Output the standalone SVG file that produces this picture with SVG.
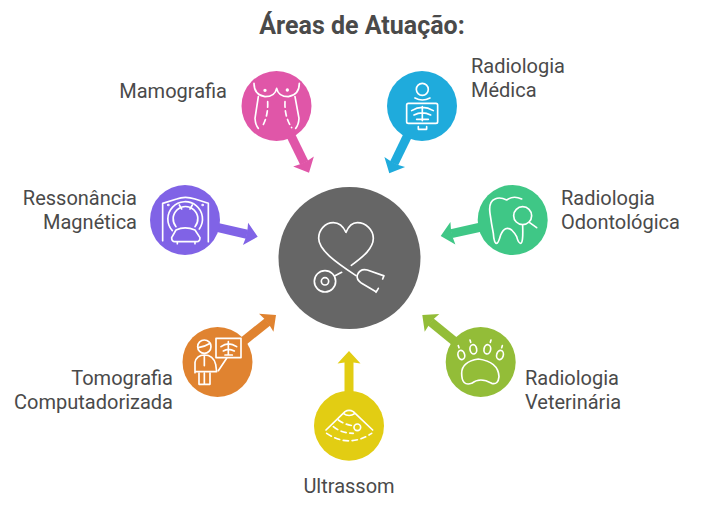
<svg xmlns="http://www.w3.org/2000/svg" width="706" height="514" viewBox="0 0 706 514">
<style>
text{font-family:Roboto,"Liberation Sans",sans-serif;font-size:20px;fill:#4a4a4a}
.t{font-size:25px;font-weight:700}
.e{text-anchor:end}
.m{text-anchor:middle}
.i{fill:none;stroke:#fff;stroke-width:5;stroke-linecap:round;stroke-linejoin:round}
.d{stroke-dasharray:16 11}
</style>
<defs>
<path id="ah" d="M-11.5,-4.4 L-12.5,-11.5 L0,0 L-12.5,11.5 L-11.5,4.4 Z"/>
</defs>
<rect width="706" height="514" fill="#fff"/>
<text class="t m" x="362" y="34">Áreas de Atuação:</text>
<g id="connectors" fill="none" stroke-width="9">
<g transform="translate(309,172.7) rotate(64)" fill="#e056a8"><path d="M-45,0H-11" stroke="#e056a8"/><use href="#ah"/></g>
<g transform="translate(389.3,173.3) rotate(115.9)" fill="#1fabdc"><path d="M-45,0H-11" stroke="#1fabdc"/><use href="#ah"/></g>
<g transform="translate(257.7,236.7) rotate(12.9)" fill="#8063e6"><path d="M-45,0H-11" stroke="#8063e6"/><use href="#ah"/></g>
<g transform="translate(440.7,236) rotate(167.5)" fill="#3fc786"><path d="M-45,0H-11" stroke="#3fc786"/><use href="#ah"/></g>
<g transform="translate(276,315) rotate(-38.8)" fill="#e08330"><path d="M-45,0H-11" stroke="#e08330"/><use href="#ah"/></g>
<g transform="translate(422.3,315) rotate(-140.8)" fill="#93bd38"><path d="M-45,0H-11" stroke="#93bd38"/><use href="#ah"/></g>
<g transform="translate(349,351) rotate(-90)" fill="#e2cd13"><path d="M-45,0H-11" stroke="#e2cd13"/><use href="#ah"/></g>
</g>
<g id="center">
<circle cx="349.5" cy="258" r="71" fill="#666"/>
<g transform="translate(280,190) scale(.3333)" class="i">
<path d="M214,226C250,200 280,175 280,145C280,120 258,98 232,98C215,98 205,110 198,127C190,110 178,98 160,98C135,98 116,120 116,145C116,180 165,215 228,257"/>
<path d="M310,257L262,240Q240,235 232,255Q228,268 245,280L288,305M312,257L308,267M295,295L288,307M185,247L165,257"/>
<circle cx="135" cy="274" r="32"/><circle cx="135" cy="274" r="11"/>
</g>
</g>
<g id="mamografia">
<circle cx="276.5" cy="106" r="35" fill="#e056a8"/>
<g transform="translate(230,60) scale(.3333)" class="i">
<path d="M72,70Q72,105 105,110Q135,110 140,85Q145,110 175,110Q208,105 208,70M85,110L75,175Q76,195 85,205M195,110L207,175Q206,195 197,205"/>
<path class="d" d="M113,125Q115,170 95,203M165,125Q163,170 185,203"/>
<circle cx="105" cy="91" r="2.5"/><circle cx="172" cy="90" r="2.5"/>
</g>
<text class="e" x="227" y="98">Mamografia</text>
</g>
<g id="radiologia-medica">
<circle cx="422" cy="106" r="35" fill="#1fabdc"/>
<g transform="translate(230,60) scale(.3333)" class="i">
<circle cx="577" cy="88" r="18"/>
<path d="M555,114Q577,126 600,114"/>
<rect x="530" y="130" width="93" height="60" rx="5"/>
<path d="M565,200V208H590V200M577,140V182M545,152Q577,132 610,152M552,165Q577,152 602,165M560,178H595"/>
</g>
<text x="471" y="73">Radiologia</text>
<text x="471" y="97">Médica</text>
</g>
<g id="ressonancia">
<circle cx="185" cy="220" r="35" fill="#8063e6"/>
<g transform="translate(140,175) scale(.3333)" class="i">
<path d="M68,197V85L110,72Q135,62 165,72L205,85V200"/>
<circle cx="85" cy="90" r="1.5"/><circle cx="188" cy="90" r="1.5"/>
<path d="M97,167A52,52 0 1 1 178,162"/>
<path d="M108,155A37,37 0 1 1 165,155"/>
<path d="M118,90L125,102M157,90L150,102"/>
<path d="M108,165Q135,152 165,165L180,188Q180,200 170,200H105Q95,200 95,188ZM112,200V206M165,200V206"/>
</g>
<text class="e" x="137" y="205">Ressonância</text>
<text class="e" x="137" y="229">Magnética</text>
</g>
<g id="radiologia-odontologica">
<circle cx="512.7" cy="220" r="35" fill="#3fc786"/>
<g transform="translate(430,175) scale(.3333)" class="i">
<path d="M275,72Q250,60 230,75Q210,65 195,72Q175,80 180,115Q185,150 190,175Q192,205 200,205Q205,205 212,180Q225,150 245,165Q255,175 260,185Q265,205 272,205Q280,205 278,152"/>
<circle cx="278" cy="122" r="27"/>
<path d="M298,142L320,158"/>
</g>
<text x="561" y="205">Radiologia</text>
<text x="561" y="229">Odontológica</text>
</g>
<g id="tomografia">
<circle cx="217.5" cy="362" r="35" fill="#e08330"/>
<g transform="translate(175,305) scale(.3333)" class="i">
<circle cx="88" cy="125" r="20"/>
<path d="M70,128Q90,125 106,115"/>
<path d="M60,203V172Q65,150 88,150Q115,150 122,178L125,200H60M88,150V182M72,205V238H105V205M88,205V238"/>
<rect x="123" y="100" width="75" height="58"/>
<path d="M138,125Q160,108 185,125M145,138Q160,128 178,138M150,150H172M160,110V150M155,160L130,197"/>
</g>
<text class="e" x="173" y="385">Tomografia</text>
<text class="e" x="173" y="409">Computadorizada</text>
</g>
<g id="radiologia-veterinaria">
<circle cx="480.7" cy="362" r="35" fill="#93bd38"/>
<g transform="translate(415,305) scale(.3333)" class="i">
<path d="M140,205Q140,170 190,162Q250,170 252,215Q250,240 230,235Q195,215 170,235Q140,245 140,205Z"/>
<ellipse cx="139" cy="150" rx="10" ry="14" transform="rotate(-15 139 150)"/>
<ellipse cx="175" cy="133" rx="10" ry="14" transform="rotate(-10 175 133)"/>
<ellipse cx="217" cy="133" rx="10" ry="14" transform="rotate(10 217 133)"/>
<ellipse cx="255" cy="150" rx="10" ry="14" transform="rotate(15 255 150)"/>
<path d="M130,122L132,128M165,105L167,112M228,105L226,112M262,122L260,128"/>
</g>
<text x="525" y="385">Radiologia</text>
<text x="525" y="409">Veterinária</text>
</g>
<g id="ultrassom">
<circle cx="349" cy="425.7" r="35" fill="#e2cd13"/>
<g transform="translate(300,345) scale(.3333)" class="i">
<path d="M78,255L135,200Q147,192 160,200L218,255M130,205Q147,218 165,205"/>
<path class="d" d="M115,225Q135,240 165,243M100,245Q125,265 160,265M80,265Q147,310 215,265"/>
<circle cx="172" cy="247" r="10"/>
</g>
<text class="m" x="349" y="493">Ultrassom</text>
</g>
</svg>
